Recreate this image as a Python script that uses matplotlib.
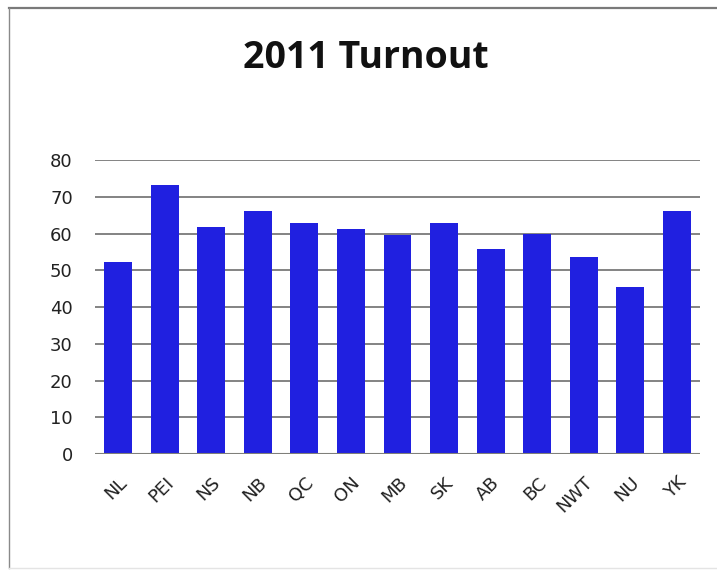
import matplotlib.pyplot as plt
from matplotlib.lines import Line2D

provinces = ["NL", "PEI", "NS", "NB", "QC", "ON", "MB", "SK", "AB", "BC", "NWT", "NU", "YK"]
turnout = [52.3, 73.2, 61.7, 66.0, 62.8, 61.1, 59.7, 62.8, 55.7, 60.0, 53.5, 45.4, 66.0]
y_ticks = [0, 10, 20, 30, 40, 50, 60, 70, 80]

W, H = 717, 575
fig = plt.figure(figsize=(W / 100, H / 100), dpi=100)
fig.patch.set_facecolor("white")

# frame around the chart area (cut off on the right)
fig.add_artist(Line2D([9 / W, 1.0], [1 - 7.5 / H, 1 - 7.5 / H], color="#7a7a7a", lw=1.6))
fig.add_artist(Line2D([9 / W, 9 / W], [1 - 7.5 / H, 1 - 568 / H], color="#8a8a8a", lw=1.0))
fig.add_artist(Line2D([9 / W, 1.0], [1 - 568 / H, 1 - 568 / H], color="#e4e4e4", lw=1.0))

ax = fig.add_axes([95 / W, 1 - 454 / H, (700 - 95) / W, (454 - 160) / H])
ax.bar(range(len(provinces)), turnout, width=0.6, color="#2020e0", zorder=3)

ax.set_ylim(0, 80)
ax.set_xlim(-0.5, len(provinces) - 0.5)
ax.set_yticks(y_ticks)
ax.yaxis.grid(True, color="#7a7a7a", lw=1.3, zorder=0)
for s in ax.spines.values():
    s.set_visible(False)
ax.axhline(0, color="#7f7f7a", lw=1.5, zorder=4)
ax.tick_params(axis="both", length=0, labelsize=13, colors="#222222")
ax.tick_params(axis="y", pad=16)
ax.set_xticks(range(len(provinces)))
ax.set_xticklabels(provinces, rotation=45, ha="right", va="top", rotation_mode="anchor")
ax.tick_params(axis="x", pad=14)

fig.text(366 / W, 1 - 58 / H, "2011 Turnout", ha="center", va="center",
         fontsize=27, fontweight="bold", family="Open Sans", color="#111111")

fig.savefig("out.png", dpi=100)
